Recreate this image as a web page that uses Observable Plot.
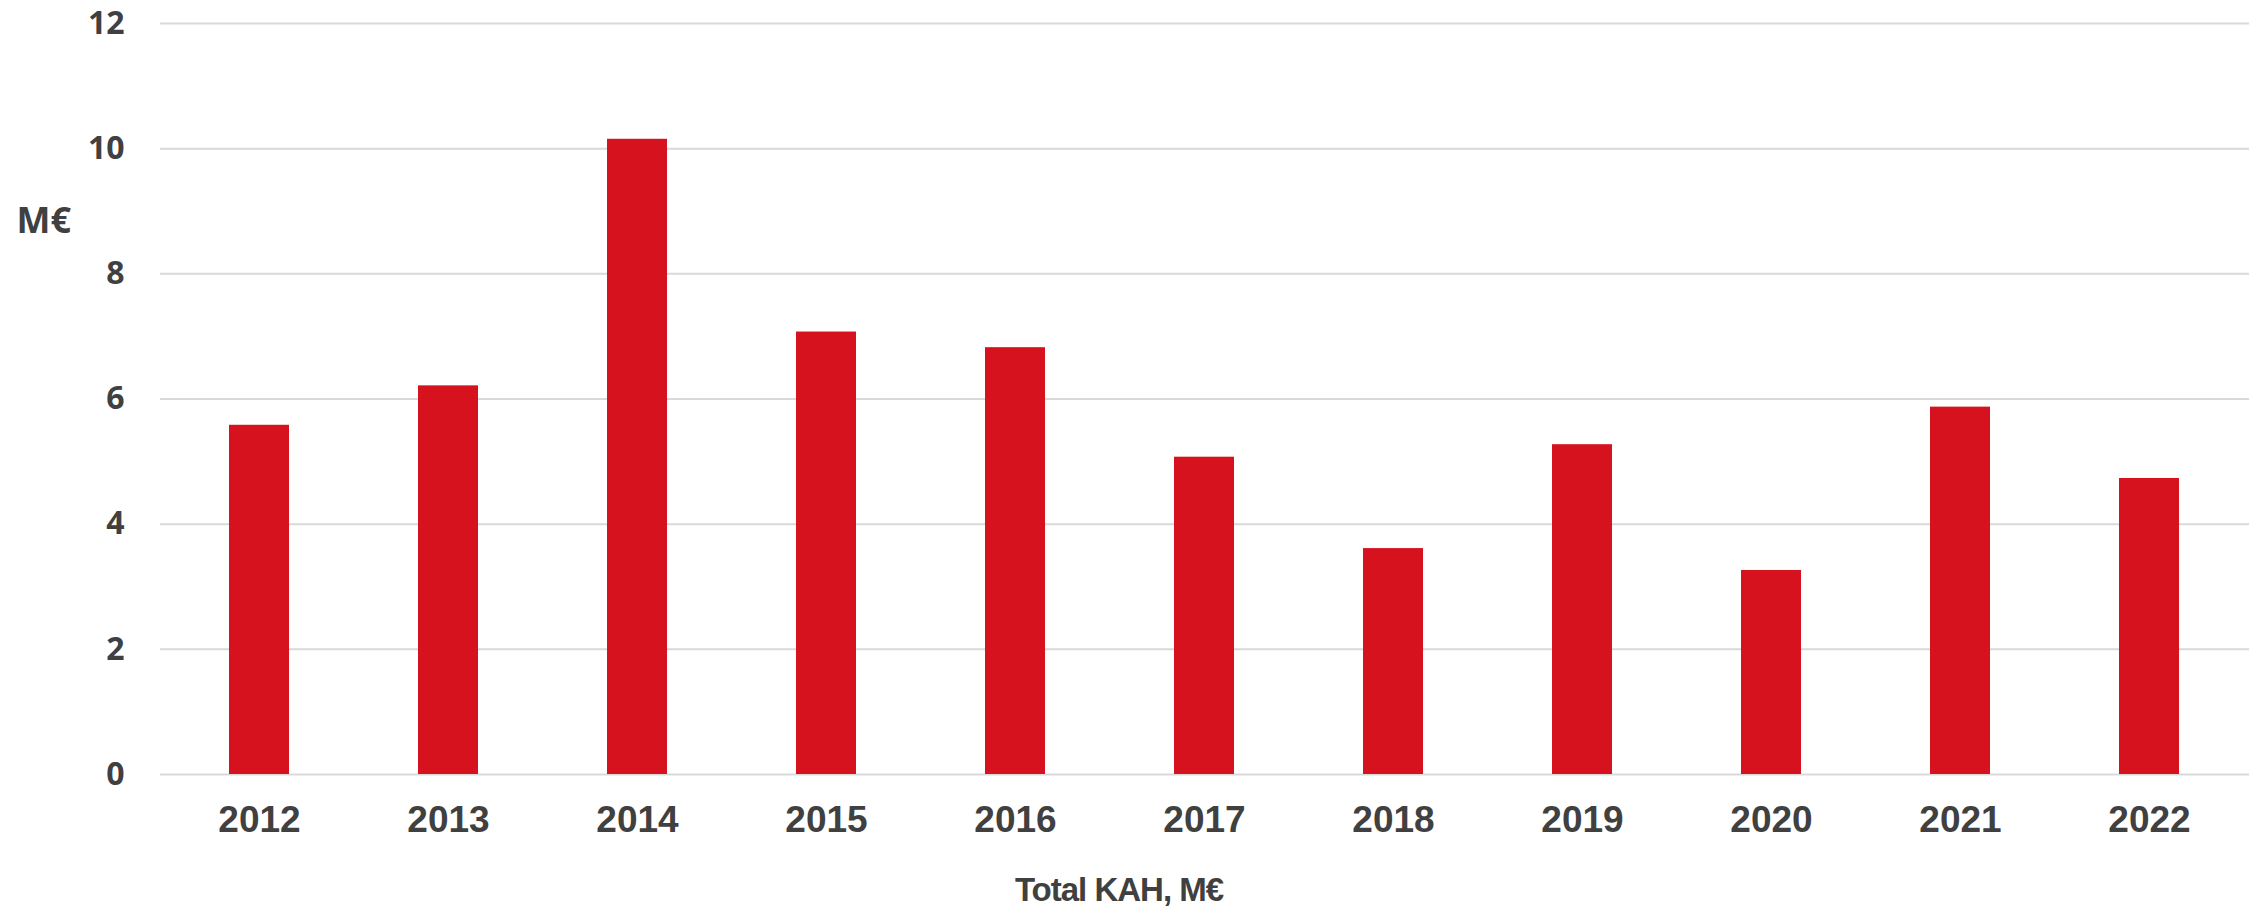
<!DOCTYPE html>
<html>
<head>
<meta charset="utf-8">
<script src="https://cdn.jsdelivr.net/npm/d3@7"></script>
<script src="https://cdn.jsdelivr.net/npm/@observablehq/plot@0.6"></script>
<style>
  html, body { margin: 0; padding: 0; background: #ffffff; }
  #wrap { position: relative; width: 2264px; height: 906px; }
  #caption {
    position: absolute; top: 873px; left: 0; width: 2238px; text-align: center;
    font-family: "Liberation Sans", Arial, sans-serif; font-weight: bold;
    font-size: 33px; line-height: 1; letter-spacing: -1px; color: #404040;
  }
</style>
</head>
<body>
<div id="wrap"><div id="chart"></div><div id="caption">Total KAH, M€</div></div>
<script>
const years = ["2012","2013","2014","2015","2016","2017","2018","2019","2020","2021","2022"];
const values = [5.58, 6.21, 10.15, 7.07, 6.82, 5.07, 3.61, 5.27, 3.26, 5.87, 4.73];
const yTicks = [0, 2, 4, 6, 8, 10, 12];
const yUnit = "M€";

const data = years.map((year, i) => ({year, value: values[i]}));

const chart = Plot.plot({
  width: 2264,
  height: 850,
  marginTop: 23,
  marginBottom: 76,
  marginLeft: 160,
  marginRight: 15,
  style: {background: "#ffffff", color: "#404040"},
  x: {domain: years, paddingInner: 0.68, paddingOuter: 0.34, label: null},
  y: {domain: [0, 12], label: null},
  marks: [
    Plot.gridY(yTicks, {stroke: "#d9d9d9", strokeOpacity: 1, strokeWidth: 2}),
    Plot.barY(data, {x: "year", y: "value", fill: "#d6121f"}),
    Plot.axisX({tickSize: 0, tickPadding: 31, fontSize: 37, fontWeight: "bold",
      fontFamily: "'Liberation Sans', Arial, sans-serif", fill: "#404040", label: null}),
    Plot.axisY(yTicks, {tickSize: 0, tickPadding: 36, fontSize: 32, fontWeight: "bold",
      tickFormat: d => String(d),
      fontFamily: "'Open Sans', sans-serif", fill: "#404040", label: null}),
    Plot.text([yUnit], {frameAnchor: "top-left", dx: -144, dy: 198, textAnchor: "start",
      lineAnchor: "middle", fontSize: 36, fontWeight: "bold",
      fontFamily: "'Open Sans', sans-serif", fill: "#404040"})
  ]
});
document.getElementById("chart").appendChild(chart);
</script>
</body>
</html>
